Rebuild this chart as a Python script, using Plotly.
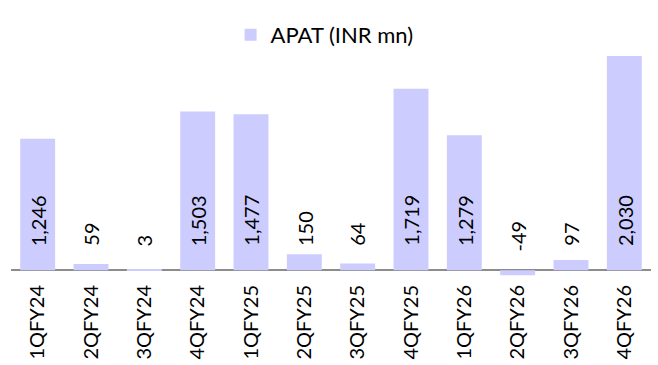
import plotly.graph_objects as go

quarters = ["1QFY24", "2QFY24", "3QFY24", "4QFY24", "1QFY25", "2QFY25",
            "3QFY25", "4QFY25", "1QFY26", "2QFY26", "3QFY26", "4QFY26"]
apat = [1246, 59, 3, 1503, 1477, 150, 64, 1719, 1279, -49, 97, 2030]

FONT = "Lato"
BAR_COLOR = "#CCCCFF"

fig = go.Figure()
fig.add_trace(go.Bar(
    x=quarters, y=apat, name="APAT (INR mn)",
    marker=dict(color=BAR_COLOR, line=dict(width=0)),
    showlegend=True,
))

# value labels, rotated, sitting just above the base of each bar
for q, v in zip(quarters, apat):
    fig.add_annotation(
        x=q, y=min(v, 0), text=f"{v:,}", textangle=-90,
        showarrow=False, yanchor="bottom", yshift=22,
        font=dict(family=FONT, size=20, color="#000000"),
    )

fig.update_layout(
    width=658, height=365,
    margin=dict(l=11, r=7, t=56, b=85, autoexpand=False),
    paper_bgcolor="white", plot_bgcolor="white",
    bargap=0.345,
    font=dict(family=FONT, size=20, color="#000000"),
    legend=dict(orientation="h", x=0.49, xanchor="center",
                y=1 - 35 / 365, yanchor="middle", yref="container",
                font=dict(size=22), itemsizing="constant"),
    xaxis=dict(tickangle=-90, showgrid=False, showline=False, ticks="",
               tickfont=dict(family=FONT, size=20)),
    yaxis=dict(range=[-93, 2030], showticklabels=False, showgrid=False,
               ticks="", zeroline=True, zerolinecolor="#8c8c8c",
               zerolinewidth=2),
)

fig.write_html("out.html")
